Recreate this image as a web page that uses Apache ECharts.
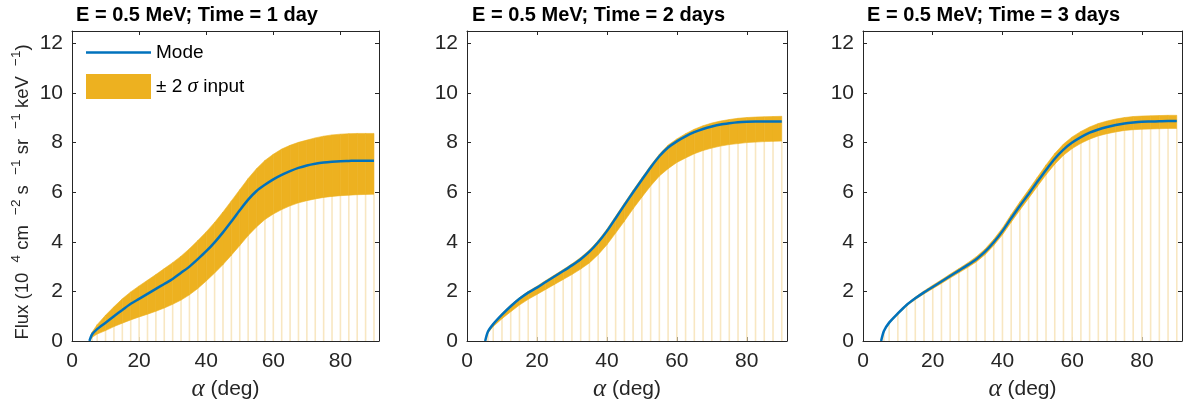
<!DOCTYPE html>
<html>
<head>
<meta charset="utf-8">
<script src="https://cdn.jsdelivr.net/npm/echarts@6/dist/echarts.min.js"></script>
<style>
html,body{margin:0;padding:0;background:#fff;}
#c{width:1190px;height:407px;}
</style>
</head>
<body>
<div id="c"></div>
<script>
// ---- data ----
const angles = [5.2, 6, 7.5, 10, 12.5, 15, 17.5, 20, 22.5, 25, 27.5, 30, 32.5, 35, 37.5, 40, 42.5, 45, 47.5, 50,
  52.5, 55, 57.5, 60, 62.5, 65, 67.5, 70, 72.5, 75, 77.5, 80, 82.5, 85, 87.5, 90];

const titles = ['E = 0.5 MeV; Time = 1 day', 'E = 0.5 MeV; Time = 2 days', 'E = 0.5 MeV; Time = 3 days'];

const lower1 = [0, 0.15, 0.28, 0.42, 0.58, 0.72, 0.85, 0.97, 1.08, 1.2, 1.33, 1.48, 1.65, 1.86, 2.12, 2.42, 2.74, 3.08, 3.46, 3.85,
  4.25, 4.6, 4.9, 5.12, 5.3, 5.45, 5.57, 5.66, 5.73, 5.79, 5.83, 5.86, 5.88, 5.9, 5.91, 5.92];
const mode1 = [0, 0.27, 0.48, 0.74, 1.0, 1.25, 1.5, 1.7, 1.9, 2.1, 2.3, 2.5, 2.75, 3.0, 3.3, 3.62, 3.98, 4.38, 4.82, 5.27,
  5.7, 6.05, 6.3, 6.52, 6.7, 6.85, 6.98, 7.08, 7.15, 7.2, 7.23, 7.25, 7.26, 7.27, 7.27, 7.27];
const upper1 = [0, 0.36, 0.66, 1.04, 1.38, 1.7, 1.98, 2.22, 2.45, 2.68, 2.92, 3.16, 3.42, 3.72, 4.05, 4.4, 4.78, 5.2, 5.65, 6.1,
  6.55, 6.95, 7.28, 7.53, 7.74, 7.89, 8.01, 8.1, 8.19, 8.26, 8.31, 8.34, 8.36, 8.37, 8.37, 8.37];

const lower2 = [0, 0.33, 0.58, 0.9, 1.18, 1.45, 1.68, 1.88, 2.08, 2.28, 2.48, 2.68, 2.9, 3.15, 3.48, 3.88, 4.35, 4.83, 5.33, 5.8,
  6.25, 6.65, 6.95, 7.2, 7.38, 7.55, 7.68, 7.78, 7.86, 7.92, 7.96, 8.0, 8.02, 8.04, 8.05, 8.06];
const mode2 = [0, 0.38, 0.68, 1.06, 1.4, 1.7, 1.95, 2.15, 2.38, 2.6, 2.82, 3.05, 3.3, 3.6, 3.98, 4.43, 4.95, 5.48, 6.0, 6.5,
  7.0, 7.45, 7.8, 8.05, 8.25, 8.42, 8.55, 8.65, 8.73, 8.78, 8.82, 8.84, 8.85, 8.85, 8.85, 8.85];
const upper2 = [0, 0.41, 0.72, 1.11, 1.45, 1.75, 2.0, 2.21, 2.44, 2.66, 2.88, 3.11, 3.37, 3.67, 4.05, 4.51, 5.03, 5.56, 6.08, 6.58,
  7.08, 7.53, 7.9, 8.15, 8.36, 8.54, 8.68, 8.79, 8.87, 8.93, 8.98, 9.01, 9.03, 9.04, 9.05, 9.06];

const lower3 = [0, 0.38, 0.71, 1.07, 1.41, 1.67, 1.9, 2.11, 2.32, 2.54, 2.75, 2.96, 3.19, 3.48, 3.85, 4.28, 4.79, 5.28, 5.75, 6.23,
  6.7, 7.13, 7.49, 7.76, 7.97, 8.14, 8.27, 8.36, 8.43, 8.49, 8.52, 8.54, 8.55, 8.56, 8.57, 8.57];
const mode3 = [0, 0.4, 0.74, 1.11, 1.45, 1.72, 1.96, 2.18, 2.4, 2.62, 2.84, 3.06, 3.3, 3.6, 3.98, 4.43, 4.95, 5.45, 5.93, 6.42,
  6.9, 7.35, 7.72, 8.0, 8.22, 8.4, 8.53, 8.63, 8.71, 8.77, 8.81, 8.84, 8.85, 8.86, 8.87, 8.87];
const upper3 = [0, 0.42, 0.77, 1.15, 1.49, 1.77, 2.02, 2.25, 2.47, 2.7, 2.92, 3.15, 3.4, 3.71, 4.1, 4.56, 5.1, 5.61, 6.1, 6.6,
  7.1, 7.56, 7.94, 8.23, 8.45, 8.63, 8.77, 8.87, 8.95, 9.01, 9.05, 9.07, 9.08, 9.09, 9.1, 9.1];

const xTicks = {min: 0, max: 91.5, interval: 20};
const yTicks = {min: 0, max: 12.5, interval: 2};

// ---- chart ----
const FONT = 'Liberation Sans, Arial, Helvetica, sans-serif';
const AX = '#262626';
const ORANGE = '#EDB120';
const BLUE = '#0072BD';
const BAND = '± 2σ input';

const panels = [
  {lower: lower1, mode: mode1, upper: upper1},
  {lower: lower2, mode: mode2, upper: upper2},
  {lower: lower3, mode: mode3, upper: upper3}
];
const gridPos = [
  {left: 72, top: 31, width: 307, height: 310},
  {left: 467, top: 31, width: 320, height: 310},
  {left: 863, top: 31, width: 319, height: 310}
];
const titleLeft = [76, 472, 867];

const grid = [], xAxis = [], yAxis = [], series = [], title = [];
panels.forEach((p, i) => {
  grid.push(gridPos[i]);
  title.push({text: titles[i], left: titleLeft[i], top: 5, padding: 0,
    textStyle: {fontFamily: FONT, fontSize: 20, fontWeight: 'bold', color: '#000'}});
  const lineCfg = {show: true, onZero: false, lineStyle: {color: AX, width: 1}};
  const tickCfg = {show: true, inside: true, length: 4, lineStyle: {color: AX, width: 1}};
  xAxis.push({type: 'value', gridIndex: i, position: 'bottom', ...xTicks,
    axisLine: lineCfg, axisTick: tickCfg, splitLine: {show: false},
    axisLabel: {fontFamily: FONT, fontSize: 21, color: AX, margin: 10, showMaxLabel: false},
    name: '{a|α} (deg)', nameLocation: 'middle', nameGap: 32,
    nameTextStyle: {fontFamily: FONT, fontSize: 21, color: AX,
      rich: {a: {fontFamily: 'Liberation Serif', fontStyle: 'italic', fontSize: 25, color: AX}}}});
  xAxis.push({type: 'value', gridIndex: i, position: 'top', ...xTicks,
    axisLine: lineCfg, axisTick: tickCfg, splitLine: {show: false}, axisLabel: {show: false}});
  const yl = {type: 'value', gridIndex: i, position: 'left', ...yTicks,
    axisLine: lineCfg, axisTick: tickCfg, splitLine: {show: false},
    axisLabel: {fontFamily: FONT, fontSize: 21, color: AX, margin: 9, showMaxLabel: false}};
  if (i === 0) {
    yl.name = '{n|Flux (10  }{s|4}{n| cm  }{s|−2}{n| s  }{s|−1}{n| sr  }{s|−1}{n| keV  }{s|−1}{e|)}';
    yl.nameLocation = 'middle';
    yl.nameRotate = 90;
    yl.nameGap = 36;
    yl.nameTextStyle = {fontFamily: FONT, color: AX, rich: {
      n: {fontFamily: FONT, fontSize: 18.5, lineHeight: 27, color: AX},
      e: {fontFamily: FONT, fontSize: 18.5, lineHeight: 27, color: AX, padding: [0, 12, 0, 0]},
      s: {fontFamily: FONT, fontSize: 13.5, lineHeight: 13, verticalAlign: 'top', color: AX}}};
  }
  yAxis.push(yl);
  yAxis.push({type: 'value', gridIndex: i, position: 'right', ...yTicks,
    axisLine: lineCfg, axisTick: tickCfg, splitLine: {show: false}, axisLabel: {show: false}});

  const xi = i * 2, yi = i * 2;
  // faint stems from 0 to lower bound
  series.push({type: 'custom', name: 'stem' + i, xAxisIndex: xi, yAxisIndex: yi, silent: true, clip: true,
    data: angles.map((a, k) => [a, p.lower[k]]),
    renderItem: (params, api) => {
      const a = api.coord([api.value(0), 0]);
      const b = api.coord([api.value(0), api.value(1)]);
      return {type: 'line', shape: {x1: a[0], y1: a[1], x2: b[0], y2: b[1]},
        style: {stroke: '#F8E7C2', lineWidth: 1.6}};
    }});
  // band between lower and upper
  series.push({type: 'custom', name: BAND, xAxisIndex: xi, yAxisIndex: yi, silent: true, clip: true,
    color: ORANGE, itemStyle: {color: ORANGE},
    data: angles.slice(0, -1).map((a, k) => [a, p.lower[k], p.upper[k], angles[k + 1], p.lower[k + 1], p.upper[k + 1]]),
    renderItem: (params, api) => {
      const p1 = api.coord([api.value(0), api.value(1)]);
      const p2 = api.coord([api.value(3), api.value(4)]);
      const p3 = api.coord([api.value(3), api.value(5)]);
      const p4 = api.coord([api.value(0), api.value(2)]);
      return {type: 'polygon', shape: {points: [p1, p2, p3, p4]},
        style: {fill: ORANGE, stroke: ORANGE, lineWidth: 0.6}};
    }});
  // mode line
  series.push({type: 'line', name: 'Mode', xAxisIndex: xi, yAxisIndex: yi, silent: true,
    symbol: 'none', showSymbol: false, smooth: 0.25, color: BLUE,
    lineStyle: {color: BLUE, width: 2.5},
    data: angles.map((a, k) => [a, p.mode[k]])});
});

const legendText = {fontFamily: FONT, fontSize: 19, color: '#000',
  rich: {i: {fontFamily: 'Liberation Serif', fontStyle: 'italic', fontSize: 21, color: '#000'}}};

const chart = echarts.init(document.getElementById('c'), null, {renderer: 'canvas'});
chart.setOption({
  animation: false,
  backgroundColor: '#fff',
  title, grid, xAxis, yAxis, series,
  legend: [{
    orient: 'vertical', left: 86, top: 43, padding: 0,
    itemWidth: 65, itemHeight: 2.5, selectedMode: false,
    data: [{name: 'Mode', icon: 'rect', itemStyle: {color: BLUE}}],
    textStyle: legendText
  }, {
    orient: 'vertical', left: 86, top: 74, padding: 0,
    itemWidth: 65, itemHeight: 25, selectedMode: false,
    data: [{name: BAND, icon: 'rect', itemStyle: {color: ORANGE}}],
    textStyle: legendText,
    formatter: () => '± 2 {i|σ} input'
  }]
});
</script>
</body>
</html>
